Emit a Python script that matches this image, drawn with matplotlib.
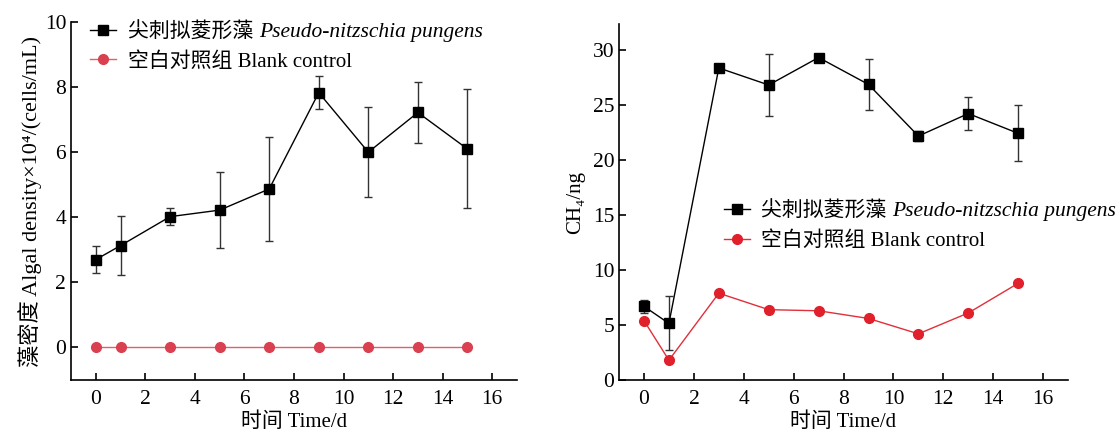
import numpy as np
import matplotlib.pyplot as plt

plt.rcParams['font.family'] = ['Liberation Serif', 'Noto Sans CJK SC', 'DejaVu Serif']

days = [0, 1, 3, 5, 7, 9, 11, 13, 15]

# algal density (x10^4 cells/mL)
algae_pn = [2.70, 3.13, 4.02, 4.22, 4.87, 7.83, 6.00, 7.22, 6.10]
algae_pn_err = [0.42, 0.90, 0.25, 1.17, 1.59, 0.51, 1.38, 0.93, 1.83]
algae_blank = [0, 0, 0, 0, 0, 0, 0, 0, 0]

# CH4 (ng)
ch4_pn = [6.7, 5.15, 28.4, 26.85, 29.35, 26.9, 22.2, 24.25, 22.45]
ch4_pn_err = [0.6, 2.45, 0.1, 2.8, 0.1, 2.3, 0.45, 1.5, 2.55]
ch4_blank = [5.4, 1.8, 7.9, 6.4, 6.3, 5.6, 4.2, 6.1, 8.8]

lab_pn = '尖刺拟菱形藻'
lab_pn_it = 'Pseudo-nitzschia pungens'
lab_blank = '空白对照组 Blank control'

fig = plt.figure(figsize=(11.17, 4.32), dpi=100)
ax1 = fig.add_axes([0.0636, 0.1204, 0.3992, 0.8286])
ax2 = fig.add_axes([0.5542, 0.1204, 0.4020, 0.8240])


def style(ax):
    for s in ['top', 'right']:
        ax.spines[s].set_visible(False)
    for s in ['left', 'bottom']:
        ax.spines[s].set_linewidth(1.2)
    ax.tick_params(direction='in', length=5, width=1.2, labelsize=15.5)
    ax.tick_params(axis='x', pad=7)
    ax.set_xlim(-1, 17)
    ax.set_xticks(np.arange(0, 17, 2))
    ax.set_xlabel('时间 Time/d', fontsize=15, labelpad=3)


def add_legend(ax, h1, h2, anchor):
    leg = ax.legend([h1, h2], [lab_pn, lab_blank], loc='upper left', bbox_to_anchor=anchor,
                    frameon=False, fontsize=15, handlelength=1.25, handletextpad=0.55,
                    labelspacing=0.45, borderpad=0)
    # italic species name drawn after the legend, placed right of the first label
    ax.annotate(lab_pn_it, xy=(1, 0.5), xycoords=leg.get_texts()[0], xytext=(4, 0),
                textcoords='offset points', va='center', ha='left', fontsize=15.5,
                style='italic', family='Liberation Serif', annotation_clip=False,
                zorder=10)


# left panel
c1 = ax1.errorbar(days, algae_pn, yerr=algae_pn_err, color='k', marker='s', ms=7,
                  lw=1, ecolor='#333333', elinewidth=1, capsize=3.2, zorder=3)
l1, = ax1.plot(days, algae_blank, color='#e06070', marker='o', ms=7, mfc='#d94050',
               mec='#d94050', lw=1, zorder=3)
style(ax1)
ax1.set_ylim(-1, 10)
ax1.set_yticks(np.arange(0, 11, 2))
ax1.set_ylabel('藻密度 Algal density×10⁴/(cells/mL)', fontsize=16, labelpad=2)
add_legend(ax1, c1[0], l1, (0.02, 1.028))

# right panel
c2 = ax2.errorbar(days, ch4_pn, yerr=ch4_pn_err, color='k', marker='s', ms=7,
                  lw=1, ecolor='#333333', elinewidth=1, capsize=3.2, zorder=3)
l2, = ax2.plot(days, ch4_blank, color='#e0303a', marker='o', ms=7, mfc='#e0202a',
               mec='#e0202a', lw=1, zorder=3)
style(ax2)
ax2.set_ylim(0, 32.4)
ax2.set_yticks(np.arange(0, 31, 5))
ax2.set_ylabel('CH₄/ng', fontsize=15, labelpad=5)
add_legend(ax2, c2[0], l2, (0.21, 0.53))

fig.savefig('out.png', dpi=100)
